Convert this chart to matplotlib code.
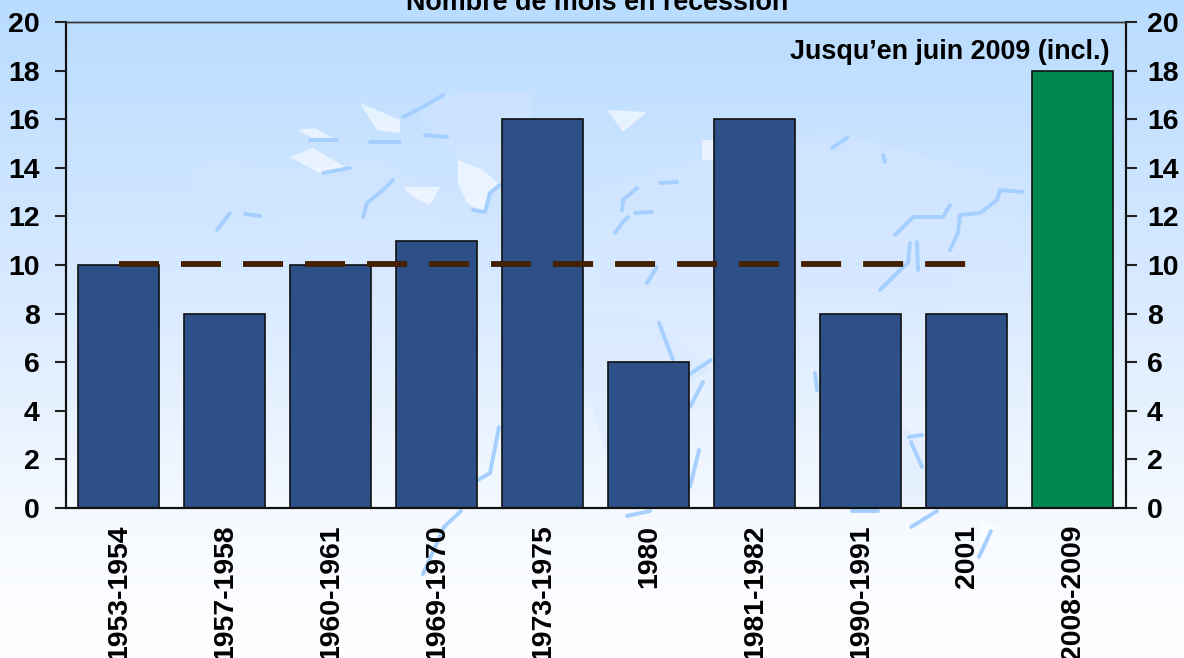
import numpy as np
import matplotlib
matplotlib.use("Agg")
import matplotlib.pyplot as plt
from matplotlib.colors import LinearSegmentedColormap

categories = ["1953-1954", "1957-1958", "1960-1961", "1969-1970", "1973-1975",
              "1980", "1981-1982", "1990-1991", "2001", "2008-2009"]
months = [10, 8, 10, 11, 16, 6, 16, 8, 8, 18]
average = [10.05] * 9
yticks = list(range(0, 21, 2))
title = "Nombre de mois en récession"
note = "Jusqu’en juin 2009 (incl.)"

# Decorative backdrop only (faint world map), in picture pixels
pale_land = [
    [(197,167),(220,160),(290,170),(380,160),(440,200),(445,240),(380,262),(290,240),(270,210),(200,210)],
    [(600,190),(680,165),(830,130),(1030,185),(1000,260),(960,270),(940,320),(880,300),(700,290),(600,290)],
    [(500,330),(585,310),(660,320),(710,370),(660,400),(660,500),(620,500),(590,400),(500,400)],
    [(860,440),(900,425),(925,440),(925,505),(860,505)],
    [(425,123),(533,93),(533,190),(498,183),(483,170),(458,160)],
    [(420,110),(440,95),(480,93),(533,93),(425,123)],
]
white_land = [
    [(458,160),(483,170),(498,183),(488,193),(483,212),(467,203),(458,183)],
    [(297,130),(315,128),(340,142),(320,142)],
    [(290,157),(313,148),(350,170),(323,175)],
    [(360,103),(400,120),(400,133),(377,130)],
    [(403,187),(440,187),(430,205),(413,197)],
    [(607,110),(647,112),(623,132)],
    [(702,140),(714,140),(714,160),(702,160)],
    [(979,520),(996,525),(992,535),(980,548)],
]
coast = [
    [(217,230),(230,213)], [(245,214),(260,216)], [(363,217),(367,203),(383,190),(393,180)],
    [(473,210),(485,212),(490,193),(500,185)], [(403,117),(423,107),(443,95)],
    [(370,142),(400,142)], [(310,140),(337,140)], [(323,173),(350,168)], [(425,135),(447,137)],
    [(950,250),(958,233),(960,215),(980,213),(997,200),(1000,190),(1023,192)],
    [(895,235),(913,217),(943,217),(950,205)], [(880,290),(900,270),(908,263),(910,243)],
    [(917,242),(918,270)], [(622,210),(623,200),(637,188)], [(615,233),(622,223),(628,217)],
    [(635,213),(652,212)], [(660,183),(677,182)], [(647,283),(657,267)], [(832,148),(848,137)],
    [(883,155),(885,162)], [(478,480),(490,473),(499,427)], [(444,527),(461,511)],
    [(423,574),(444,527)], [(852,511),(878,511)], [(911,527),(937,511)], [(991,531),(979,557)],
    [(627,516),(650,511)], [(690,374),(711,360)], [(690,407),(703,382)], [(690,487),(699,450)],
    [(659,323),(673,360)], [(909,437),(922,435)], [(911,442),(922,467)], [(815,373),(817,390)],
]

W, H = 1184, 658
plt.rcParams["font.family"] = ["Liberation Sans", "DejaVu Sans"]
plt.rcParams["font.weight"] = "bold"
fig = plt.figure(figsize=(W / 100, H / 100), dpi=100)

bg = fig.add_axes([0, 0, 1, 1], zorder=0)
bg.axis("off")
cmap = LinearSegmentedColormap.from_list("sky", [(0, "#b9dcff"), (0.45, "#d9eaff"), (0.8, "#f6faff"), (1, "#ffffff")])
bg.imshow(np.linspace(0, 1, 400)[:, None], aspect="auto", cmap=cmap, extent=[0, W, H, 0], vmin=0, vmax=1)
for poly in pale_land:
    bg.fill(*zip(*poly), color="#d6e7ff", alpha=0.4, lw=0)
for poly in white_land:
    bg.fill(*zip(*poly), color="#ffffff", alpha=0.6, lw=0)
for seg in coast:
    bg.plot(*zip(*seg), color="#a5cfff", lw=2.8, solid_capstyle="round")
bg.set_xlim(0, W)
bg.set_ylim(H, 0)

ax = fig.add_axes([66 / W, 1 - 508 / H, (1126 - 66) / W, (508 - 22) / H], zorder=1)
ax.patch.set_alpha(0)
x = np.arange(len(categories))
colors = ["#2c5087"] * 9 + ["#00894e"]
ax.bar(x - 0.005, months, width=0.765, color=colors, edgecolor="#111111", linewidth=1.2, zorder=2)
ax.plot(x[:9], average, color="#432000", lw=4.2, dashes=(6.86, 3.77), dash_capstyle="butt", zorder=3)
ax.set_xlim(-0.5, 9.5)
ax.set_ylim(0, 20)
ax.set_yticks(yticks)
ax.set_xticks(x)
ax.set_xticklabels(categories, rotation=90, fontsize=20.4, fontweight="bold", ha="center", va="top")
ax.tick_params(axis="x", length=0, pad=12)
ax.tick_params(axis="y", labelsize=20.5, length=8, width=1.5, pad=11, color="#222222")

ax2 = ax.twinx()
ax2.set_ylim(0, 20)
ax2.set_yticks(yticks)
ax2.tick_params(axis="y", labelsize=20.5, length=8, width=1.5, pad=7, color="#222222")

for a in (ax, ax2):
    for s in ["left", "right", "bottom"]:
        a.spines[s].set_linewidth(1.5)
        a.spines[s].set_color("#111111")
    a.spines["top"].set_linewidth(1)
    a.spines["top"].set_color("#333333")

fig.text(597 / W, 1 - 3 / H, title, fontsize=19.4, fontweight="bold", ha="center", va="center", zorder=5)
fig.text(1110 / W, 1 - 52 / H, note, fontsize=19.4, fontweight="bold", ha="right", va="center", zorder=5)
fig.savefig("out.png", dpi=100)
